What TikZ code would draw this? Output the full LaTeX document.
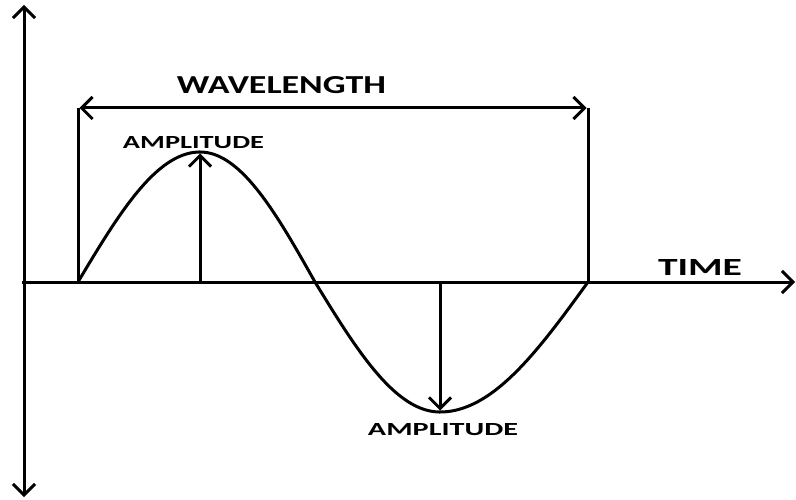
\documentclass[tikz,border=0pt]{standalone}
\usepackage{fontspec}
\setmainfont{Carlito}
\usetikzlibrary{arrows.meta}
\newcommand{\fitlbl}[3]{\resizebox{#1}{#2}{\bfseries #3}}
\begin{document}
\begin{tikzpicture}[x=1pt,y=-1pt,
  line/.style={line width=3pt},
  tip/.style={-{Straight Barb[length=11pt,width=22pt,line width=3pt]}},
  lbl/.style={inner sep=0pt}]
\useasboundingbox (0,0) rectangle (796,500);
% axes
\coordinate (ytop) at (24,5);
\coordinate (ybot) at (24,497);
\coordinate (xl) at (22,282);
\coordinate (xr) at (795,282);
\draw[line,tip] (24,282) -- (ytop);
\draw[line,tip] (24,282) -- (ybot);
\draw[line,tip] (xl) -- (xr);
% wave
\coordinate (w0) at (78,282);
\coordinate (w4) at (588,282);
\draw[line] (w0)
  plot[domain=0:90,samples=40] ({78+122*\x/90},{282-130*sin(\x)})
  -- plot[domain=90:180,samples=40] ({200+115*(\x-90)/90},{282-130*sin(\x)})
  -- plot[domain=180:270,samples=40] ({315+125*(\x-180)/90},{282-130*sin(\x)})
  -- plot[domain=270:360,samples=40] ({440+148*(\x-270)/90},{282-130*sin(\x)});
% wavelength bracket
\coordinate (b0) at (78,108);
\coordinate (b1) at (588,108);
\draw[line] (w0) -- (b0);
\draw[line] (w4) -- (b1);
\draw[line,{Straight Barb[length=11pt,width=22pt,line width=3pt]}-{Straight Barb[length=11pt,width=22pt,line width=3pt]}] (79.5,108) -- (586.5,108);
\node[lbl] (wl) at (281.5,85.5) {\fitlbl{209pt}{17pt}{WAVELENGTH}};
% amplitude arrows
\draw[line,tip] (200,282) -- (200,153.5);
\draw[line,tip] (440,282) -- (440,410.5);
\node[lbl] (a1) at (193.5,142.5) {\fitlbl{141pt}{12pt}{AMPLITUDE}};
\node[lbl] (a2) at (443,430) {\fitlbl{150pt}{12pt}{AMPLITUDE}};
\node[lbl] (t) at (700,267) {\fitlbl{84pt}{16pt}{TIME}};
\end{tikzpicture}
\end{document}
